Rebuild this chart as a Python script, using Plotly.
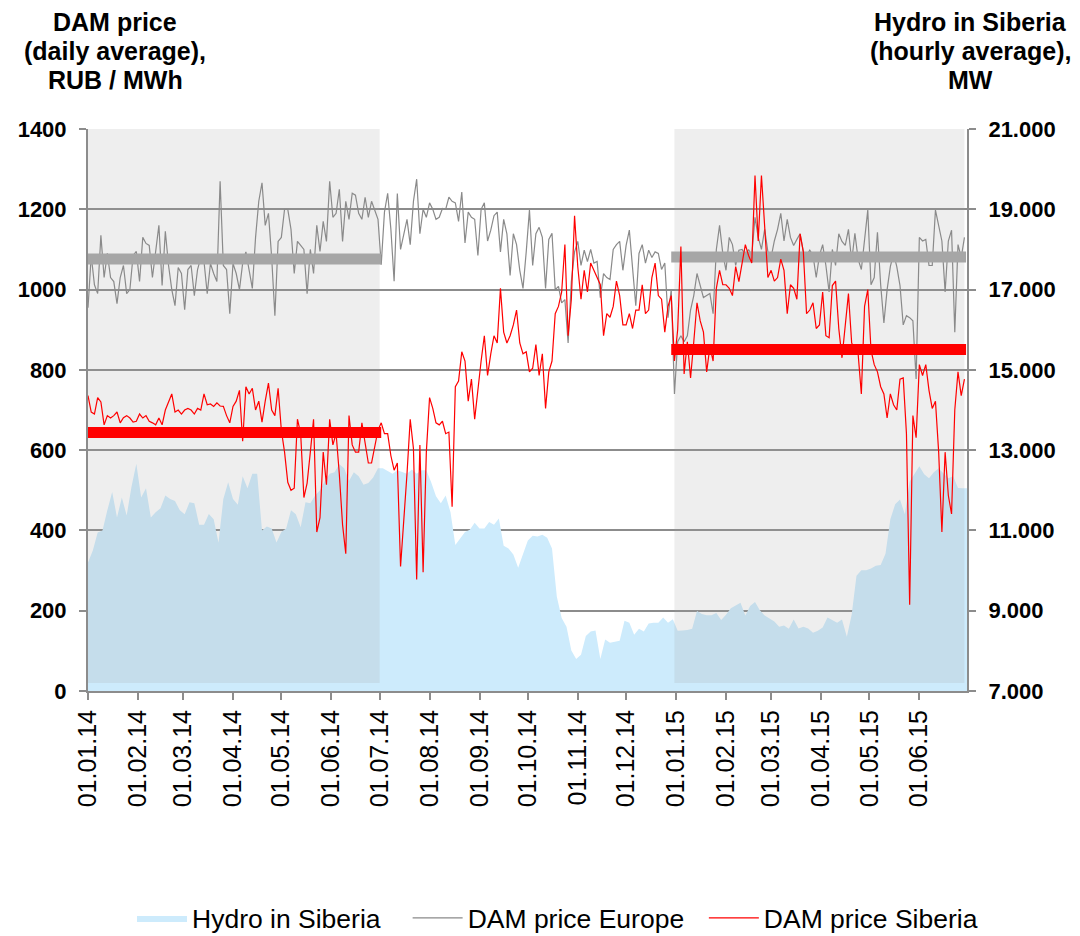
import pandas as pd
import plotly.graph_objects as go

# ---------------- data ----------------
START = "2014-01-01"

# DAM price Europe, RUB/MWh, every 2nd day from 01.01.14
europe_price = [
    955, 1085, 1012, 990, 1135, 1030, 1090, 1030, 1020, 965, 1030, 1060, 990, 1000, 1085, 1095,
    1020, 1130, 1115, 1110, 1030, 1095, 1160, 1010, 1145, 1060, 1000, 960, 1055, 1040, 950, 1050,
    1060, 985, 1050, 1080, 1070, 990, 1065, 1040, 1020, 1270, 1060, 1050, 940, 1065,
    1040, 1000, 1066, 1094, 1053, 1003, 1130, 1220, 1266, 1160, 1190, 1080, 935, 1120, 1130, 1200,
    1200, 1150, 1040, 1120, 1110, 1100, 990, 1100, 1040, 1160, 1095, 1170, 1120, 1270, 1180, 1190,
    1250, 1120, 1220, 1175, 1240, 1235, 1190, 1175, 1230, 1180, 1220, 1195, 1175,
    1062, 1193, 1240, 1150, 1021, 1239, 1100, 1139, 1175, 1112, 1220, 1275, 1139, 1200, 1180, 1216,
    1200, 1175, 1180, 1202, 1200, 1230, 1220, 1216, 1170, 1243, 1116, 1193, 1180, 1175, 1085, 1200,
    1216, 1121, 1148, 1184, 1193, 1094, 1175, 1139, 1035, 1139, 1112, 1048, 1003, 1094, 1198,
    1060, 1139, 1155, 1130, 1003, 1125, 1140, 1000, 1008, 967, 975, 867, 1020, 1094, 1120, 1060,
    1098, 1070, 1100, 1066, 1070, 980, 1040, 1030, 1025, 1100, 1112, 1120, 1048, 1110, 1148, 1048,
    960, 1090, 1112, 1066, 1098, 1080, 1094, 1090, 1050, 1066, 930, 1000, 740,
    870, 885, 870, 885, 949, 985, 1040, 1012, 980, 985, 990, 940, 1100, 1160, 1090, 1048,
    1130, 1112, 1060, 1098, 1100, 1085, 1100, 1085, 1180, 1130, 1100, 1150, 1094, 1080, 1121, 1150,
    1190, 1121, 1175, 1130, 1110, 1125, 1139, 1094, 1085, 1098, 1085, 1030, 1085,
    1112, 1060, 994, 1100, 1060, 1139, 1120, 1110, 1150, 1070, 1140, 1076, 1050, 1121, 1198, 1012,
    1030, 1143, 1012, 917, 1000, 1057, 1090, 1057, 1010, 912, 935, 930, 922, 777, 1130, 1121,
    1125, 1060, 1060, 1198, 1160, 1121, 994, 1121, 1148, 894, 1112, 1080, 1130,
]

# DAM price Siberia, RUB/MWh, every 2nd day from 01.01.14
siberia_price = [
    736, 695, 690, 731, 720, 663, 686, 680, 686, 695, 668, 681, 686, 680, 670, 672,
    690, 680, 686, 672, 668, 663, 680, 663, 700, 722, 740, 695, 700, 690, 700, 704,
    700, 690, 704, 700, 740, 713, 715, 709, 718, 710, 709, 686, 668, 709,
    722, 749, 622, 758, 740, 754, 700, 722, 670, 722, 767, 700, 686, 754, 650, 595,
    520, 500, 505, 677, 641, 482, 518, 595, 677, 396, 432, 595, 514, 677, 613, 641,
    540, 414, 342, 686, 613, 595, 595, 668, 613, 568, 568, 613, 650,
    668, 641, 641, 586, 550, 568, 310, 414, 541, 677, 604, 278, 613, 296, 595, 731,
    704, 668, 663, 672, 641, 645, 459, 758, 772, 845, 822, 722, 777, 677, 758, 822,
    885, 786, 840, 885, 867, 1003, 894, 867, 885, 912, 949, 867, 840, 845, 795,
    804, 863, 786, 840, 704, 795, 822, 940, 958, 994, 1112, 885, 976, 1184, 1057, 976,
    1048, 994, 1066, 1048, 1030, 1012, 885, 940, 931, 958, 1021, 985, 912, 912, 940, 903,
    949, 949, 1012, 940, 949, 1030, 1066, 985, 976, 894, 958, 985, 822,
    900, 1107, 790, 870, 780, 870, 967, 922, 894, 795, 858, 822, 1003, 1048, 1012, 1012,
    1003, 985, 1057, 1020, 1066, 1112, 1085, 1066, 1284, 1121, 1284, 1157, 1030, 1048, 1021, 1030,
    1076, 1048, 940, 1012, 1003, 976, 1139, 1094, 940, 949, 967, 903, 912,
    994, 885, 880, 1010, 1021, 903, 830, 912, 990, 867, 849, 840, 740, 958, 1000, 849,
    813, 795, 758, 740, 680, 740, 713, 700, 777, 780, 641, 215, 686, 631, 813, 786,
    813, 749, 704, 722, 595, 396, 595, 487, 441, 700, 795, 736, 777,
]

# Hydro in Siberia, MW (hourly average), every 3rd day from 01.01.14
hydro_mw = [
    10200, 10500, 10950, 11000, 11500, 11960, 11320, 11820, 11370, 12090, 12660, 11820, 12050, 11320,
    11450, 11550, 11870, 11780, 11730, 11500, 11400, 11700, 11680, 11140, 11140, 11410, 11280, 10690,
    11780, 12200, 11780,
    11640, 12350, 12050, 12410, 12410, 11000, 11100, 11050, 10700, 10960, 11050, 11500, 11400, 11080,
    11700, 11680, 11870, 12000, 12230, 12410, 12450, 12650, 12550, 12230, 12450, 12350, 12140, 12180,
    12320, 12550,
    12550, 12480, 12410, 12500, 12450, 12410, 12520, 12410, 12500, 12500, 12200, 11850, 11680, 11870,
    11450, 10640, 10800, 10960, 11020, 11190, 11050, 11050, 11210, 11140, 11300, 10620, 10550, 10400,
    10070, 10400, 10750,
    10870, 10850, 10890, 10820, 10550, 9350, 8820, 8600, 8010, 7800, 7900, 8370, 8480, 8510,
    7800, 8280, 8200, 8220, 8250, 8750, 8700, 8400, 8550, 8480, 8680, 8700, 8700, 8830,
    8700, 8790,
    8500, 8510, 8520, 8550, 8990, 8920, 8890, 8890, 8940, 8770, 8900, 9060, 9120, 9200,
    8880, 9120, 9220, 9010, 8880, 8810, 8730, 8600, 8630, 8550, 8780, 8560, 8600, 8560,
    8450, 8500, 8580,
    8830, 8760, 8700, 8780, 8350, 8900, 9870, 10010, 10010, 10050, 10120, 10140, 10420, 11280,
    11650, 11770, 11400, 12220, 12400, 12600, 12400, 12300, 12450, 12550, 12420, 12300, 12350, 12060,
    12050, 12050,
]

# half-year averages (thick bars)
avg_periods = [("2014-01-01", "2014-07-02"), ("2014-12-29", "2015-06-30")]
avg_europe = [1076, 1081]
avg_siberia = [644, 851]

# shaded half-years
shade_periods = [("2014-01-01", "2014-07-01"), ("2014-12-31", "2015-06-29")]

series_names = ["Hydro in Siberia", "DAM price Europe", "DAM price Siberia"]

price_dates = pd.date_range(START, periods=len(europe_price), freq="2D")
sib_dates = pd.date_range(START, periods=len(siberia_price), freq="2D")
hydro_dates = pd.date_range(START, periods=len(hydro_mw), freq="3D")

# ---------------- style ----------------
FONT = "Arial, Liberation Sans, sans-serif"
AX = "#8c8c8c"
HYDRO = "#cdebfc"
EU = "#8a8a8a"
EU_AVG = "#a6a6a6"
RED = "#ff0000"
HYDRO_RANGE = [7000, 21000]
PRICE_RANGE = [0, 1400]
NB = "\u00a0"

fig = go.Figure()

fig.add_trace(go.Scatter(
    x=hydro_dates, y=hydro_mw, yaxis="y", mode="lines", fill="tozeroy",
    line=dict(width=0, color=HYDRO), fillcolor=HYDRO, name=series_names[0] + NB * 3,
    hoverinfo="skip"))

shade_bottom = HYDRO_RANGE[0] + (HYDRO_RANGE[1] - HYDRO_RANGE[0]) * 20 / 1400
for s, e in shade_periods:
    fig.add_trace(go.Scatter(
        x=[s, s, e, e, s],
        y=[shade_bottom, HYDRO_RANGE[1], HYDRO_RANGE[1], shade_bottom, shade_bottom],
        yaxis="y", mode="lines", fill="toself", line=dict(width=0),
        fillcolor="rgba(160,160,160,0.18)", showlegend=False, hoverinfo="skip"))

fig.add_trace(go.Scatter(
    x=price_dates, y=europe_price, yaxis="y2", mode="lines",
    line=dict(width=1.2, color=EU), name=series_names[1] + NB * 2))
for (s, e), v in zip(avg_periods, avg_europe):
    fig.add_trace(go.Scatter(x=[s, e], y=[v, v], yaxis="y2", mode="lines",
                             line=dict(width=11, color=EU_AVG), showlegend=False))

fig.add_trace(go.Scatter(
    x=sib_dates, y=siberia_price, yaxis="y2", mode="lines",
    line=dict(width=1.2, color=RED), name=series_names[2]))
for (s, e), v in zip(avg_periods, avg_siberia):
    fig.add_trace(go.Scatter(x=[s, e], y=[v, v], yaxis="y2", mode="lines",
                             line=dict(width=11, color=RED), showlegend=False))

tickfont_bold = dict(family=FONT, size=22, color="black", weight="bold")

fig.update_layout(
    width=1080, height=936,
    paper_bgcolor="white", plot_bgcolor="white",
    margin=dict(l=88, r=113, t=129, b=245),
    separators=",.",
    font=dict(family=FONT, color="black"),
    showlegend=True,
    legend=dict(orientation="h", xref="container", yref="container",
                x=132 / 1080, y=0.019, xanchor="left", yanchor="middle",
                font=dict(family=FONT, size=26.5, color="black"),
                itemwidth=50, bgcolor="rgba(0,0,0,0)"),
    xaxis=dict(
        type="date", range=["2014-01-01", "2015-06-30 14:00"],
        tickformat="%d.%m.%y", dtick="M1", tick0="2014-01-01", tickangle=-90,
        ticks="outside", ticklen=7, tickwidth=1.5, tickcolor=AX,
        showline=True, linecolor=AX, linewidth=2, showgrid=False, zeroline=False,
        tickfont=dict(family=FONT, size=25, color="black")),
    yaxis=dict(
        side="right", range=HYDRO_RANGE, dtick=2000, tick0=7000, tickformat=",d",
        ticks="outside", ticklen=7, tickwidth=1.5, tickcolor=AX,
        showline=True, linecolor=AX, linewidth=2, showgrid=False, zeroline=False,
        tickfont=tickfont_bold, ticklabelstandoff=8),
    yaxis2=dict(
        side="left", overlaying="y", range=PRICE_RANGE, dtick=200, tickformat="d",
        ticks="outside", ticklen=7, tickwidth=1.5, tickcolor=AX,
        showline=True, linecolor=AX, linewidth=2,
        showgrid=True, gridcolor=AX, gridwidth=2, zeroline=False,
        tickfont=tickfont_bold, ticklabelstandoff=8),
)

left_title = ["DAM price", "(daily average),", "RUB / MWh"]
right_title = ["Hydro in Siberia", "(hourly average),", "MW"]
line_y = [22, 51, 80]
for txt, yy in zip(left_title, line_y):
    fig.add_annotation(text="<b>%s</b>" % txt, xref="paper", yref="paper",
                       x=(115 - 88) / 879, y=1 + (129 - yy) / 562,
                       xanchor="center", yanchor="middle", showarrow=False,
                       font=dict(family=FONT, size=25, color="black"))
for txt, yy in zip(right_title, line_y):
    fig.add_annotation(text="<b>%s</b>" % txt, xref="paper", yref="paper",
                       x=(970 - 88) / 879, y=1 + (129 - yy) / 562,
                       xanchor="center", yanchor="middle", showarrow=False,
                       font=dict(family=FONT, size=25, color="black"))

fig.write_html(
    "out.html",
    config={"displayModeBar": False},
    post_script="document.body.style.margin='0px';document.body.style.overflow='hidden';",
)
